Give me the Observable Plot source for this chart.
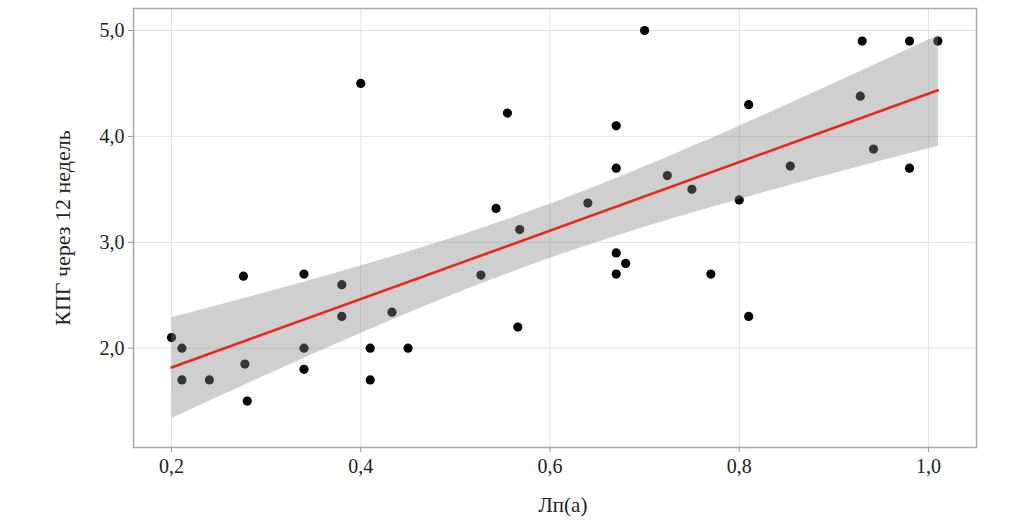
<!DOCTYPE html>
<html>
<head>
<meta charset="utf-8">
<script src="https://cdn.jsdelivr.net/npm/d3@7"></script>
<script src="https://cdn.jsdelivr.net/npm/@observablehq/plot@0.6"></script>
<style>
  html, body { margin: 0; padding: 0; background: #fff; }
  #chart svg { display: block; }
</style>
</head>
<body>
<div id="chart"></div>
<script>
// Lp(a) values (x) and KPG after 12 weeks (y)
const lpa = [0.200, 0.211, 0.211, 0.240, 0.276, 0.2775, 0.280, 0.340, 0.340, 0.340,
             0.380, 0.380, 0.400, 0.410, 0.410, 0.433, 0.450, 0.527, 0.543, 0.555,
             0.568, 0.566, 0.640, 0.670, 0.670, 0.670, 0.670, 0.680, 0.700, 0.724,
             0.750, 0.770, 0.800, 0.810, 0.810, 0.854, 0.930, 0.928, 0.942, 0.980,
             0.980, 1.010];
const kpg = [2.10, 2.00, 1.70, 1.70, 2.68, 1.85, 1.50, 2.70, 2.00, 1.80,
             2.60, 2.30, 4.50, 2.00, 1.70, 2.34, 2.00, 2.69, 3.32, 4.22,
             3.12, 2.20, 3.37, 4.10, 3.70, 2.90, 2.70, 2.80, 5.00, 3.63,
             3.50, 2.70, 3.40, 4.30, 2.30, 3.72, 4.90, 4.38, 3.88, 4.90,
             3.70, 4.90];
const xTicks = [0.2, 0.4, 0.6, 0.8, 1.0];
const yTicks = [2.0, 3.0, 4.0, 5.0];
const xTitle = "Лп(а)";
const yTitle = "КПГ через 12 недель";

const data = lpa.map((x, i) => ({x, y: kpg[i]}));
const fmt = d => d.toFixed(1).replace(".", ",");
const font = "'Liberation Serif', 'DejaVu Serif', serif";

const chart = Plot.plot({
  width: 1034,
  height: 521,
  marginLeft: 133,
  marginRight: 58,
  marginTop: 8,
  marginBottom: 74,
  style: {fontFamily: font, fontSize: "20px", color: "#222", background: "#fff"},
  x: {domain: [0.1598, 1.0508]},
  y: {domain: [1.062, 5.208]},
  marks: [
    Plot.gridX(xTicks, {stroke: "#e2e2e2", strokeOpacity: 1}),
    Plot.gridY(yTicks, {stroke: "#e2e2e2", strokeOpacity: 1}),
    Plot.dot(data, {x: "x", y: "y", r: 4.6, fill: "#000", stroke: null}),
    Plot.linearRegressionY(data, {x: "x", y: "y", ci: 0.98, stroke: "#e8291c", strokeWidth: 2.6, fill: "#888", fillOpacity: 0.4}),
    Plot.frame({stroke: "#a8a8a8", strokeWidth: 1.5}),
    Plot.axisX(xTicks, {tickFormat: fmt, tickSize: 5, tickPadding: 6, stroke: "#999", fill: "#222", fontSize: 20, label: null}),
    Plot.axisY(yTicks, {tickFormat: fmt, tickSize: 5, tickPadding: 4, stroke: "#999", fill: "#222", fontSize: 20, label: null}),
    Plot.text([xTitle], {frameAnchor: "bottom", textAnchor: "middle", lineAnchor: "middle", dx: 8, dy: 58, fontSize: 21, fill: "#222"}),
    Plot.text([yTitle], {frameAnchor: "left", textAnchor: "middle", lineAnchor: "middle", rotate: -90, dx: -71, fontSize: 22, fill: "#222"})
  ]
});
document.getElementById("chart").append(chart);
</script>
</body>
</html>
